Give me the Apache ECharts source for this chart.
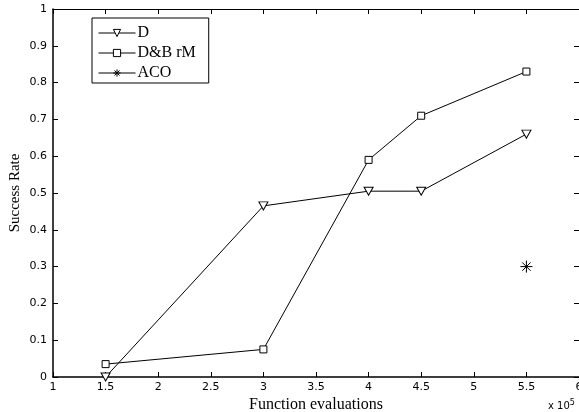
<!DOCTYPE html>
<html>
<head>
<meta charset="utf-8">
<script src="https://cdn.jsdelivr.net/npm/echarts@6/dist/echarts.min.js"></script>
<style>html,body{margin:0;padding:0;background:#fff;}#c{width:579px;height:412px;}</style>
</head>
<body>
<div id="c"></div>
<script>
const xD = [1.5, 3, 4, 4.5, 5.5];
const yD = [0, 0.465, 0.505, 0.505, 0.66];
const xDB = [1.5, 3, 4, 4.5, 5.5];
const yDB = [0.035, 0.075, 0.59, 0.71, 0.83];
const xACO = [5.5];
const yACO = [0.3];

const serif = '"Liberation Serif", "DejaVu Serif", serif';
const sans = '"DejaVu Sans", "Liberation Sans", sans-serif';
const pairs = (xs, ys) => xs.map((x, i) => [x, ys[i]]);

const tri = 'path://M0,0 L10,0 L5,9 Z';
const star = 'path://M5,0 L5,10 M0,5 L10,5 M1.5,1.5 L8.5,8.5 M8.5,1.5 L1.5,8.5';

const chart = echarts.init(document.getElementById('c'), null, {renderer: 'canvas'});
chart.setOption({
  animation: false,
  backgroundColor: '#fff',
  grid: {left: 53, right: 0, top: 9, bottom: 35, containLabel: false, outerBoundsMode: 'none'},
  legend: {
    orient: 'vertical', left: 92, top: 18,
    backgroundColor: '#fff', borderColor: '#000', borderWidth: 1, borderRadius: 0,
    padding: [7, 13, 2, 6], itemGap: 4, itemWidth: 37, itemHeight: 9,
    lineStyle: {color: '#000', width: 1},
    itemStyle: {color: '#fff', borderColor: '#000', borderWidth: 1},
    textStyle: {fontFamily: serif, fontSize: 16, color: '#000', padding: [0, 0, 0, -3]},
    data: ['D', 'D&B rM', 'ACO']
  },
  xAxis: [{
    type: 'value', min: 1, max: 6, interval: 0.5,
    name: 'Function evaluations', nameLocation: 'middle', nameGap: 20, nameMoveOverlap: false,
    nameTextStyle: {fontFamily: serif, fontSize: 16, color: '#000'},
    axisLine: {show: true, onZero: false, lineStyle: {color: '#000', width: 1.5}},
    axisTick: {inside: true, length: 5, lineStyle: {color: '#000'}},
    axisLabel: {fontFamily: sans, fontSize: 11, color: '#000', margin: 5},
    splitLine: {show: false}
  }, {
    type: 'value', min: 1, max: 6, interval: 0.5, position: 'top',
    axisLine: {show: true, onZero: false, lineStyle: {color: '#000', width: 1}},
    axisTick: {inside: true, length: 5, lineStyle: {color: '#000'}},
    axisLabel: {show: false}, splitLine: {show: false}
  }],
  yAxis: [{
    type: 'value', min: 0, max: 1, interval: 0.1,
    name: 'Success Rate', nameLocation: 'middle', nameGap: 30, nameRotate: 90, nameMoveOverlap: false,
    nameTextStyle: {fontFamily: serif, fontSize: 15, color: '#000'},
    axisLine: {show: true, onZero: false, lineStyle: {color: '#000', width: 1.5}},
    axisTick: {inside: true, length: 5, lineStyle: {color: '#000'}},
    axisLabel: {fontFamily: sans, fontSize: 11, color: '#000', margin: 6},
    splitLine: {show: false}
  }, {
    type: 'value', min: 0, max: 1, interval: 0.1, position: 'right',
    axisLine: {show: true, onZero: false, lineStyle: {color: '#000', width: 1}},
    axisTick: {inside: true, length: 5, lineStyle: {color: '#000'}},
    axisLabel: {show: false}, splitLine: {show: false}
  }],
  graphic: [{
    type: 'text', left: 548, top: 399,
    style: {
      rich: {
        a: {fontFamily: sans, fontSize: 10, fill: '#000'},
        b: {fontFamily: sans, fontSize: 8, fill: '#000', verticalAlign: 'top', padding: [0, 0, 6, 0]}
      },
      text: '{a|x 10}{b|5}'
    }
  }],
  series: [{
    name: 'D', type: 'line', data: pairs(xD, yD),
    symbol: tri, symbolSize: [9, 8], showAllSymbol: true,
    lineStyle: {color: '#000', width: 1},
    itemStyle: {color: '#fff', borderColor: '#000', borderWidth: 1}
  }, {
    name: 'D&B rM', type: 'line', data: pairs(xDB, yDB),
    symbol: 'rect', symbolSize: 7,
    lineStyle: {color: '#000', width: 1},
    itemStyle: {color: '#fff', borderColor: '#000', borderWidth: 1}
  }, {
    name: 'ACO', type: 'line', data: pairs(xACO, yACO),
    symbol: star, symbolSize: 12,
    lineStyle: {color: '#000', width: 1},
    itemStyle: {color: 'none', borderColor: '#000', borderWidth: 1}
  }]
});
</script>
</body>
</html>
